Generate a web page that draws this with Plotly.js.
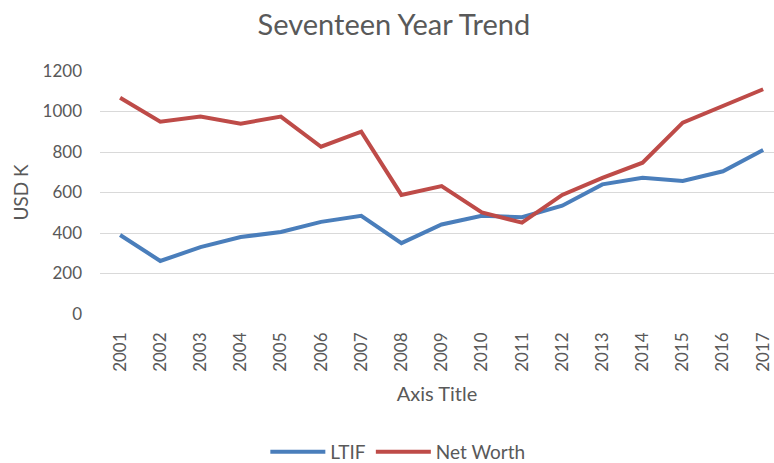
<!DOCTYPE html>
<html><head><meta charset="utf-8">
<script src="https://cdn.plot.ly/plotly-3.0.1.min.js"></script>
<style>html,body{margin:0;padding:0;background:#fff}#chart{width:774px;height:463px}</style>
</head><body><div id="chart"></div>
<script>
const years = ["2001","2002","2003","2004","2005","2006","2007","2008","2009","2010","2011","2012","2013","2014","2015","2016","2017"];
const ltif = [390, 262, 330, 380, 405, 455, 485, 350, 442, 485, 478, 535, 640, 673, 657, 705, 810];
const netWorth = [1068, 950, 975, 940, 975, 826, 900, 588, 632, 502, 451, 588, 672, 747, 945, 1025, 1110];
const font = "Lato, 'Open Sans', sans-serif";
const grey = "#595959";
Plotly.newPlot("chart", [
  {x: years, y: ltif, name: "LTIF", type: "scatter", mode: "lines", line: {color: "#4A7EBB", width: 4}},
  {x: years, y: netWorth, name: "Net Worth", type: "scatter", mode: "lines", line: {color: "#BE4B48", width: 4}}
], {
  width: 774, height: 463,
  margin: {l: 100, r: 0, t: 71, b: 149},
  paper_bgcolor: "#fff", plot_bgcolor: "#fff",
  font: {family: font, color: grey, size: 17},
  title: {text: "Seventeen Year Trend", font: {family: font, size: 29, color: grey}, x: 0.509, xanchor: "center", y: 0.946, yanchor: "middle", automargin: false},
  xaxis: {type: "category", range: [-0.5, 16.27], tickangle: -90, showgrid: false, zeroline: false, automargin: false,
    showline: false, ticks: "", ticklen: 0, ticklabelstandoff: 14, tickfont: {size: 17, color: grey},
    title: {text: "Axis Title", font: {size: 20, color: grey}, standoff: 16}},
  yaxis: {range: [0, 1200], dtick: 200, gridcolor: "#D9D9D9", gridwidth: 1, zeroline: false, automargin: false,
    showline: false, ticks: "", ticklabelstandoff: 17, tickfont: {size: 17, color: grey},
    title: {text: "USD K", font: {size: 19, color: grey}, standoff: 8}},
  showlegend: true,
  legend: {orientation: "h", xref: "container", yref: "container", x: 0.514, xanchor: "center", y: 0.024, yanchor: "middle",
    itemwidth: 55, tracegroupgap: 0, font: {size: 19, color: grey}}
}, {displayModeBar: false, staticPlot: true});
</script></body></html>
